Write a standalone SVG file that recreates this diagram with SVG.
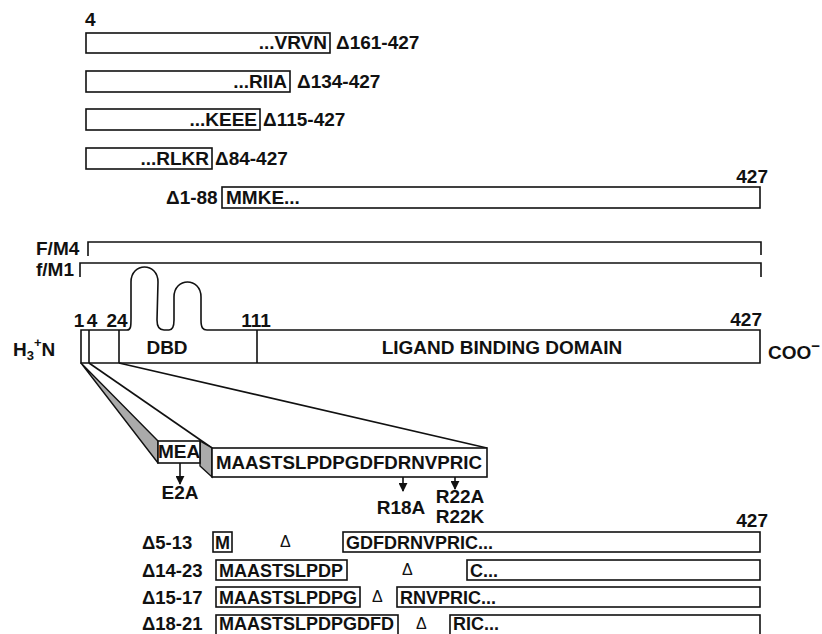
<svg xmlns="http://www.w3.org/2000/svg" width="822" height="634" viewBox="0 0 822 634">
<defs>
<style>
text{font-family:"Liberation Sans",Arial,Helvetica,sans-serif;font-weight:bold;font-size:19px;fill:#111}
.box{fill:#fff;stroke:#111;stroke-width:1.6}
.ln{fill:none;stroke:#111;stroke-width:1.6}
.thin{font-weight:normal;font-size:16px}
.row{font-size:18.5px}
.seq{font-size:18px}
.mid{text-anchor:middle}
.end{text-anchor:end}
</style>
<marker id="ah" viewBox="0 0 10 10" refX="9" refY="5" markerWidth="9" markerHeight="9" markerUnits="userSpaceOnUse" orient="auto">
<path d="M0,0 L10,5 L0,10 Z" fill="#111"/>
</marker>
</defs>
<rect width="822" height="634" fill="#fff"/>

<g id="d161">
<text x="85" y="26">4</text>
<rect class="box" x="86" y="33" width="244" height="20"/>
<text class="end" x="327" y="49">...VRVN</text>
<text x="336" y="49">Δ161-427</text>
</g>
<g id="d134">
<rect class="box" x="86" y="71" width="204" height="21"/>
<text class="end" x="287" y="88">...RIIA</text>
<text x="297" y="88">Δ134-427</text>
</g>
<g id="d115">
<rect class="box" x="86" y="109" width="174" height="21"/>
<text class="end" x="257" y="126">...KEEE</text>
<text x="263" y="126">Δ115-427</text>
</g>
<g id="d84">
<rect class="box" x="86" y="148" width="126" height="21"/>
<text class="end" x="209" y="165">...RLKR</text>
<text x="215" y="165">Δ84-427</text>
</g>
<g id="d1-88">
<text class="end" x="768" y="183">427</text>
<text x="166" y="204">Δ1-88</text>
<rect class="box" x="222" y="187" width="538" height="21"/>
<text x="226" y="204">MMKE...</text>
</g>

<g id="brackets">
<text x="36" y="255">F/M4</text>
<path class="ln" d="M88 256 V242 H761 V255"/>
<text x="36" y="276">f/M1</text>
<path class="ln" d="M80 277 V263 H761 V277"/>
</g>

<g id="protein">
<text x="13" y="356">H<tspan font-size="13" dy="4">3</tspan><tspan font-size="13" dy="-13">+</tspan><tspan dy="9">N</tspan></text>
<path class="box" d="M81 330 H127 C131 330 131 326 131 318 L131 282 C131 262 158 262 158 282 L157 320 C157 328 160 330 164 330 L169 330 C173 330 174 326 174 320 L174 297 C174 277 201 277 201 297 L201 320 C201 328 203 330 207 330 H760 V363 H81 Z"/>
<path class="ln" d="M89 330 V363 M119 330 V363 M257 330 V363"/>
<text class="mid" x="79" y="327">1</text>
<text class="mid" x="92" y="327">4</text>
<text class="mid" x="117" y="327">24</text>
<text class="mid" x="256" y="327">111</text>
<text class="end" x="762" y="326">427</text>
<text class="mid" x="167" y="354">DBD</text>
<text class="mid" x="502" y="354">LIGAND BINDING DOMAIN</text>
<text x="768" y="359">COO<tspan dy="-8" font-size="15">−</tspan></text>
</g>

<g id="connectors">
<polygon points="81,363 158,441 158,463" fill="#aaa" stroke="#111" stroke-width="1.4" stroke-linejoin="round"/>
<line class="ln" x1="89" y1="363" x2="212" y2="448"/>
<line class="ln" x1="119" y1="363" x2="487" y2="448"/>
<polygon points="200,441 212,448 212,477 200,466" fill="#aaa" stroke="#111" stroke-width="1.4"/>
<line class="ln" x1="180" y1="463" x2="180" y2="484" marker-end="url(#ah)"/>
<line class="ln" x1="403" y1="477" x2="403" y2="491" marker-end="url(#ah)"/>
<line class="ln" x1="455" y1="477" x2="455" y2="489" marker-end="url(#ah)"/>
</g>

<g id="mea">
<rect class="box" x="158" y="441" width="42" height="22"/>
<text class="mid" x="179" y="458" font-size="16">MEA</text>
<text class="mid" x="180" y="499" font-size="18">E2A</text>
</g>
<g id="nterm">
<rect class="box" x="212" y="448" width="275" height="29"/>
<text x="216" y="469" font-size="18.5" textLength="266" lengthAdjust="spacingAndGlyphs">MAASTSLPDPGDFDRNVPRIC</text>
<text class="mid" x="401" y="514" font-size="18">R18A</text>
<text class="mid" x="460" y="503" font-size="17">R22A</text>
<text class="mid" x="460" y="523" font-size="17">R22K</text>
</g>

<g id="d5-13">
<text class="end" x="768" y="527">427</text>
<text class="row" x="142" y="549">Δ5-13</text>
<rect class="box" x="213" y="532" width="19" height="20"/>
<text class="seq" x="215" y="549">M</text>
<text class="thin" x="280" y="547">Δ</text>
<rect class="box" x="343" y="532" width="417" height="20"/>
<text class="seq" x="346" y="549">GDFDRNVPRIC...</text>
</g>
<g id="d14-23">
<text class="row" x="142" y="577">Δ14-23</text>
<rect class="box" x="216" y="560" width="131" height="20"/>
<text class="seq" x="219" y="577">MAASTSLPDP</text>
<text class="thin" x="402" y="575">Δ</text>
<rect class="box" x="467" y="560" width="293" height="20"/>
<text class="seq" x="470" y="577">C...</text>
</g>
<g id="d15-17">
<text class="row" x="142" y="604">Δ15-17</text>
<rect class="box" x="216" y="587" width="144" height="20"/>
<text class="seq" x="219" y="604">MAASTSLPDPG</text>
<text class="thin" x="372" y="602">Δ</text>
<rect class="box" x="397" y="587" width="363" height="20"/>
<text class="seq" x="400" y="604">RNVPRIC...</text>
</g>
<g id="d18-21">
<text class="row" x="142" y="630">Δ18-21</text>
<rect class="box" x="216" y="615" width="182" height="22"/>
<text class="seq" x="219" y="630">MAASTSLPDPGDFD</text>
<text class="thin" x="416" y="629">Δ</text>
<rect class="box" x="450" y="615" width="310" height="22"/>
<text class="seq" x="453" y="630">RIC...</text>
</g>
</svg>
